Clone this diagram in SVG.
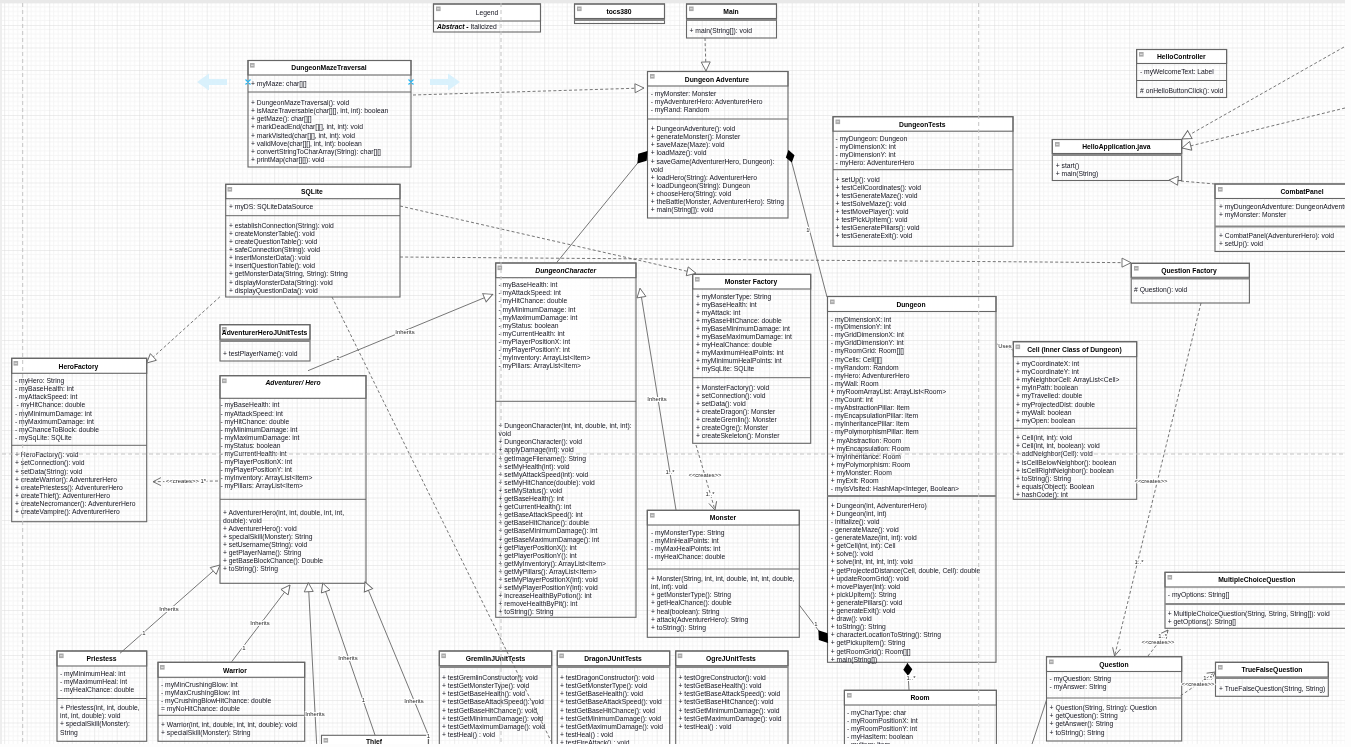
<svg xmlns="http://www.w3.org/2000/svg" width="1351" height="747" viewBox="0 0 1351 747">
<style>
text{font-family:"Liberation Sans",Arial,sans-serif;font-size:6.75px;fill:#14141f}
.n{font-weight:bold;text-anchor:middle;fill:#000;font-size:6.75px}
.b{fill:none;stroke:#666;stroke-width:1.1}
.h{fill:#fff;stroke:#666;stroke-width:1.1}
.d{stroke:#666;stroke-width:1}
.dd{stroke:#888;stroke-width:2.2}
.c{fill:none;stroke:#666;stroke-width:.9}
.dash{stroke-dasharray:3 2.2}
.tri{marker-end:url(#tri)}
.open{marker-end:url(#open)}
.dia{marker-end:url(#dia)}
.dia2{marker-end:url(#dia2)}
.l{text-anchor:middle;font-size:5.9px;fill:#1c1c1c;paint-order:stroke;stroke:#fff;stroke-width:2px}
.pb{stroke:#c4c4c4;stroke-width:1;stroke-dasharray:4 3;fill:none}
</style>
<defs>
<filter id="soft" x="0" y="0" width="100%" height="100%"><feGaussianBlur stdDeviation=".2"/></filter>
<pattern id="grid" patternUnits="userSpaceOnUse" x="4.2" y="2.5" width="22.5" height="22.5">
<path d="M4.5 0V22.5M9 0V22.5M13.5 0V22.5M18 0V22.5M0 4.5H22.5M0 9H22.5M0 13.5H22.5M0 18H22.5" stroke="#f3f3f3" stroke-width=".8" fill="none"/>
<path d="M0 0V22.5M0 0H22.5" stroke="#dcdcdc" stroke-width="1" fill="none"/>
</pattern>
<marker id="tri" markerUnits="userSpaceOnUse" markerWidth="13" markerHeight="12" refX="9.5" refY="5" orient="auto" overflow="visible"><path d="M.5 .5L9.5 5L.5 9.5z" fill="#fff" stroke="#666" stroke-width=".9"/></marker>
<marker id="open" markerUnits="userSpaceOnUse" markerWidth="12" markerHeight="12" refX="8.5" refY="4.5" orient="auto" overflow="visible"><path d="M.5 .5L8.5 4.5L.5 8.5" fill="none" stroke="#666" stroke-width=".9"/></marker>
<marker id="dia" markerUnits="userSpaceOnUse" markerWidth="15" markerHeight="11" refX="13" refY="4.5" orient="auto" overflow="visible"><path d="M0 4.5L6.5 0L13 4.5L6.5 9z" fill="#000"/></marker>
<marker id="dia2" markerUnits="userSpaceOnUse" markerWidth="18" markerHeight="13" refX="16" refY="5.5" orient="auto" overflow="visible"><path d="M0 5.5L8 0L16 5.5L8 11z" fill="#000"/></marker>
<g id="ic"><rect width="4.6" height="4.6" fill="#aaa"/><path d="M1 2.3H3.6" stroke="#fff" stroke-width=".7"/></g>
</defs>
<rect width="1351" height="747" fill="#fff"/>
<g filter="url(#soft)">
<rect x="2" y="3" width="1343" height="741" fill="url(#grid)"/>
<rect width="1351" height="3" fill="#e9e9e9"/>
<rect y="3" width="2" height="741" fill="#eee"/>
<g id="selection-arrows" fill="#d9f1fc">
<path d="M197 82L209 73.5V79H227V85H209V90.5z"/>
<path d="M460 82L448 73.5V79H430V85H448V90.5z"/>
</g>

<g id="DungeonMazeTraversal">
<rect class="h" x="248" y="60.5" width="163" height="14.5"/><rect class="b" x="248" y="60.5" width="163" height="106.5"/><line class="d" x1="248" y1="92" x2="411" y2="92"/>
<use href="#ic" x="250" y="63"/><text class="n" x="329" y="70">DungeonMazeTraversal</text>
<text x="251" y="85.5">+ myMaze: char[][]</text>
<text x="251" y="104.5">+ DungeonMazeTraversal(): void</text>
<text x="251" y="112.5">+ isMazeTraversable(char[][], int, int): boolean</text>
<text x="251" y="120.5">+ getMaze(): char[][]</text>
<text x="251" y="128.5">+ markDeadEnd(char[][], int, int): void</text>
<text x="251" y="137.5">+ markVisited(char[][], int, int): void</text>
<text x="251" y="145.5">+ validMove(char[][], int, int): boolean</text>
<text x="251" y="153.5">+ convertStringToCharArray(String): char[][]</text>
<text x="251" y="161.5">+ printMap(char[][]): void</text>
<path d="M245.5 79.5L250.5 84.5M250.5 79.5L245.5 84.5M408.5 79.5L413.5 84.5M413.5 79.5L408.5 84.5" stroke="#29b6f2" stroke-width="1.2"/>
</g>

<g id="SQLite">
<rect class="h" x="225.7" y="184.3" width="174.3" height="14.4"/><rect class="b" x="225.7" y="184.3" width="174.3" height="112.7"/><line class="d" x1="225.7" y1="215.7" x2="400" y2="215.7"/>
<use href="#ic" x="227.5" y="187"/><text class="n" x="312" y="194">SQLite</text>
<text x="229" y="209.2">+ myDS: SQLiteDataSource</text>
<text x="229" y="228.2">+ establishConnection(String): void</text>
<text x="229" y="236.2">+ createMonsterTable(): void</text>
<text x="229" y="244.2">+ createQuestionTable(): void</text>
<text x="229" y="252.2">+ safeConnection(String): void</text>
<text x="229" y="260.2">+ insertMonsterData(): void</text>
<text x="229" y="268.2">+ insertQuestionTable(): void</text>
<text x="229" y="276.2">+ getMonsterData(String, String): String</text>
<text x="229" y="285.2">+ displayMonsterData(String): void</text>
<text x="229" y="293.2">+ displayQuestionData(): void</text>
</g>

<g id="Legend">
<rect class="h" x="433.5" y="4" width="107" height="17"/><rect class="b" x="433.5" y="4" width="107" height="28"/>
<use href="#ic" x="436" y="6.5"/><text x="487" y="15" text-anchor="middle">Legend</text>
<text x="437" y="29"><tspan font-weight="bold" font-style="italic" fill="#000">Abstract - </tspan>Italicized</text>
</g>

<g id="tocs380">
<rect class="h" x="574.5" y="4" width="90" height="14.5"/><rect class="b" x="574.5" y="4" width="90" height="19.5"/><line class="dd" x1="574.5" y1="20" x2="664.5" y2="20"/>
<use href="#ic" x="577" y="6.5"/><text class="n" x="619" y="14">tocs380</text>
</g>

<g id="Main">
<rect class="h" x="686.5" y="4" width="90" height="14.5"/><rect class="b" x="686.5" y="4" width="90" height="34"/><line class="dd" x1="686.5" y1="20" x2="776.5" y2="20"/>
<use href="#ic" x="689" y="6.5"/><text class="n" x="731" y="14">Main</text>
<text x="689.5" y="33">+ main(String[]): void</text>
</g>

<g id="DungeonAdventure">
<rect class="h" x="647.5" y="71.5" width="140.5" height="14.5"/><rect class="b" x="647.5" y="71.5" width="140.5" height="146.5"/><line class="d" x1="647.5" y1="119" x2="788" y2="119"/>
<use href="#ic" x="650" y="74"/><text class="n" x="717" y="82">Dungeon Adventure</text>
<text x="650.7" y="96">- myMonster: Monster</text>
<text x="650.7" y="104">- myAdventurerHero: AdventurerHero</text>
<text x="650.7" y="112">- myRand: Random</text>
<text x="650.7" y="131">+ DungeonAdventure(): void</text>
<text x="650.7" y="139">+ generateMonster(): Monster</text>
<text x="650.7" y="147">+ saveMaze(Maze): void</text>
<text x="650.7" y="155">+ loadMaze(): void</text>
<text x="650.7" y="164">+ saveGame(AdventurerHero, Dungeon):</text>
<text x="650.7" y="172">void</text>
<text x="650.7" y="180">+ loadHero(String): AdventurerHero</text>
<text x="650.7" y="188">+ loadDungeon(String): Dungeon</text>
<text x="650.7" y="196">+ chooseHero(String): void</text>
<text x="650.7" y="204">+ theBattle(Monster, AdventurerHero): String</text>
<text x="650.7" y="212">+ main(String[]): void</text>
</g>

<g id="DungeonTests">
<rect class="h" x="833" y="116.7" width="180" height="14.5"/><rect class="b" x="833" y="116.7" width="180" height="129.6"/><line class="d" x1="833" y1="169.7" x2="1013" y2="169.7"/>
<use href="#ic" x="835.5" y="119.5"/><text class="n" x="922.3" y="127">DungeonTests</text>
<text x="835.6" y="141">- myDungeon: Dungeon</text>
<text x="835.6" y="149">- myDimensionX: int</text>
<text x="835.6" y="157">- myDimensionY: int</text>
<text x="835.6" y="165">- myHero: AdventurerHero</text>
<text x="835.6" y="182">+ setUp(): void</text>
<text x="835.6" y="190">+ testCellCoordinates(): void</text>
<text x="835.6" y="198">+ testGenerateMaze(): void</text>
<text x="835.6" y="206">+ testSolveMaze(): void</text>
<text x="835.6" y="214">+ testMovePlayer(): void</text>
<text x="835.6" y="222">+ testPickUpItem(): void</text>
<text x="835.6" y="230">+ testGeneratePillars(): void</text>
<text x="835.6" y="238">+ testGenerateExit(): void</text>
</g>

<g id="HelloController">
<rect class="h" x="1136.6" y="49.5" width="90" height="14"/><rect class="b" x="1136.6" y="49.5" width="90" height="48"/><line class="d" x1="1136.6" y1="80.5" x2="1226.6" y2="80.5"/>
<use href="#ic" x="1139" y="52"/><text class="n" x="1181.3" y="59">HelloController</text>
<text x="1140" y="74">- myWelcomeText: Label</text>
<text x="1140" y="93"># onHelloButtonClick(): void</text>
</g>

<g id="HelloApplication">
<rect class="h" x="1052.3" y="139.5" width="129.4" height="14"/><rect class="b" x="1052.3" y="139.5" width="129.4" height="41"/><line class="dd" x1="1052.3" y1="155" x2="1181.7" y2="155"/>
<use href="#ic" x="1055" y="142"/><text class="n" x="1116.3" y="149">HelloApplication.java</text>
<text x="1055.7" y="168">+ start()</text>
<text x="1055.7" y="176">+ main(String)</text>
</g>

<g id="CombatPanel">
<rect class="h" x="1215" y="184" width="174" height="14.5"/><rect class="b" x="1215" y="184" width="174" height="67.5"/><line class="dd" x1="1215" y1="226.5" x2="1389" y2="226.5"/>
<use href="#ic" x="1218" y="187"/><text class="n" x="1302" y="194">CombatPanel</text>
<text x="1219" y="209">+ myDungeonAdventure: DungeonAdventure</text>
<text x="1219" y="217">+ myMonster: Monster</text>
<text x="1219" y="238">+ CombatPanel(AdventurerHero): void</text>
<text x="1219" y="246">+ setUp(): void</text>
</g>

<g id="QuestionFactory">
<rect class="h" x="1131.2" y="263.3" width="118.2" height="14"/><rect class="b" x="1131.2" y="263.3" width="118.2" height="39.7"/><line class="dd" x1="1131.2" y1="278.5" x2="1249.4" y2="278.5"/>
<use href="#ic" x="1134" y="266"/><text class="n" x="1189" y="273">Question Factory</text>
<text x="1134" y="292">#  Question(): void</text>
</g>

<g id="AdventurerHeroJUnitTests">
<rect class="h" x="220" y="324.7" width="90" height="14.5"/><rect class="b" x="220" y="324.7" width="90" height="36.3"/><line class="dd" x1="220" y1="341" x2="310" y2="341"/>
<use href="#ic" x="222" y="327"/><text class="n" x="264.5" y="335">AdventurerHeroJUnitTests</text>
<text x="223" y="356">+ testPlayerName(): void</text>
</g>

<g id="HeroFactory">
<rect class="h" x="11.7" y="358.3" width="135" height="15"/><rect class="b" x="11.7" y="358.3" width="135" height="163.4"/><line class="d" x1="11.7" y1="445.3" x2="146.7" y2="445.3"/>
<use href="#ic" x="13.5" y="361"/><text class="n" x="78.5" y="368.5">HeroFactory</text>
<text x="15" y="383.2">- myHero: String</text>
<text x="15" y="391.2">- myBaseHealth: int</text>
<text x="15" y="399.2">- myAttackSpeed: int</text>
<text x="16.5" y="407.2">- myHitChance: double</text>
<text x="15" y="416.2">- myMinimumDamage: int</text>
<text x="15" y="424.2">- myMaximumDamage: int</text>
<text x="15" y="432.2">- myChanceToBlock: double</text>
<text x="15" y="440.2">- mySqLite: SQLite</text>
<text x="15" y="457.2">+ HeroFactory(): void</text>
<text x="15" y="465.2">+ setConnection(): void</text>
<text x="15" y="474.2">+ setData(String): void</text>
<text x="15" y="482.2">+ createWarrior(): AdventurerHero</text>
<text x="15" y="490.2">+ createPriestess(): AdventurerHero</text>
<text x="15" y="498.2">+ createThief(): AdventurerHero</text>
<text x="15" y="506.2">+ createNecromancer(): AdventurerHero</text>
<text x="15" y="514.2">+ createVampire(): AdventurerHero</text>
</g>

<g id="AdventurerHero">
<rect class="h" x="220" y="375.7" width="146" height="22.6"/><rect class="b" x="220" y="375.7" width="146" height="207.6"/><line class="d" x1="220" y1="499.3" x2="366" y2="499.3"/>
<use href="#ic" x="222" y="378.5"/><text class="n" font-style="italic" x="293" y="385">Adventurer/ Hero</text>
<text x="220.5" y="407.2">- myBaseHealth: int</text>
<text x="220.5" y="416.2">- myAttackSpeed: int</text>
<text x="220.5" y="424.2">- myHitChance: double</text>
<text x="220.5" y="432.2">- myMinimumDamage: int</text>
<text x="220.5" y="440.2">- myMaximumDamage: int</text>
<text x="220.5" y="448.2">- myStatus: boolean</text>
<text x="220.5" y="456.2">- myCurrentHealth: int</text>
<text x="220.5" y="464.2">- myPlayerPositionX: int</text>
<text x="220.5" y="472.2">- myPlayerPositionY: int</text>
<text x="220.5" y="480.2">- myInventory: ArrayList&lt;Item&gt;</text>
<text x="220.5" y="488.2">- myPillars: ArrayList&lt;Item&gt;</text>
<text x="223" y="515.2">+ AdventurerHero(int, int, double, int, int,</text>
<text x="223" y="523.2">double): void</text>
<text x="223" y="531.2">+ AdventurerHero(): void</text>
<text x="223" y="539.2">+ specialSkill(Monster): String</text>
<text x="223" y="547.2">+ setUsername(String): void</text>
<text x="223" y="555.2">+ getPlayerName(): String</text>
<text x="223" y="563.2">+ getBaseBlockChance(): Double</text>
<text x="223" y="571.2">+ toString(): String</text>
</g>

<g id="DungeonCharacter">
<rect class="h" x="495.7" y="263" width="140.3" height="14.7"/><rect class="b" x="495.7" y="263" width="140.3" height="354.3"/><line class="d" x1="495.7" y1="401.3" x2="636" y2="401.3"/>
<rect x="497" y="279" width="93" height="90" fill="#fff" opacity=".75"/>
<use href="#ic" x="497.5" y="265.5"/><text class="n" font-style="italic" x="565.7" y="273">DungeonCharacter</text>
<text x="498.5" y="286.8">- myBaseHealth: int</text>
<text x="498.5" y="295.2">- myAttackSpeed: int</text>
<text x="498.5" y="303.2">- myHitChance: double</text>
<text x="498.5" y="311.8">- myMinimumDamage: int</text>
<text x="498.5" y="319.8">- myMaximumDamage: int</text>
<text x="498.5" y="327.8">- myStatus: boolean</text>
<text x="498.5" y="335.8">- myCurrentHealth: int</text>
<text x="498.5" y="343.8">- myPlayerPositionX: int</text>
<text x="498.5" y="351.8">- myPlayerPositionY: int</text>
<text x="498.5" y="359.8">- myInventory: ArrayList&lt;Item&gt;</text>
<text x="498.5" y="367.8">- myPillars: ArrayList&lt;Item&gt;</text>
<text x="498.5" y="427.8">+ DungeonCharacter(int, int, double, int, int):</text>
<text x="498.5" y="435.8">void</text>
<text x="498.5" y="443.8">+ DungeonCharacter(): void</text>
<text x="498.5" y="451.8">+ applyDamage(int): void</text>
<text x="498.5" y="460.8">+ getImageFilename(): String</text>
<text x="498.5" y="468.8">+ setMyHealth(int): void</text>
<text x="498.5" y="476.8">+ setMyAttackSpeed(int): void</text>
<text x="498.5" y="484.8">+ setMyHitChance(double): void</text>
<text x="498.5" y="493.2">+ setMyStatus(): void</text>
<text x="498.5" y="501.2">+ getBaseHealth(): int</text>
<text x="498.5" y="509.2">+ getCurrentHealth(): int</text>
<text x="498.5" y="517.2">+ getBaseAttackSpeed(): int</text>
<text x="498.5" y="525.2">+ getBaseHitChance(): double</text>
<text x="498.5" y="533.2">+ getBaseMinimumDamage(): int</text>
<text x="498.5" y="542.2">+ getBaseMaximumDamage(): int</text>
<text x="498.5" y="550.2">+ getPlayerPositionX(): int</text>
<text x="498.5" y="558.2">+ getPlayerPositionY(): int</text>
<text x="498.5" y="566.2">+ getMyInventory(): ArrayList&lt;Item&gt;</text>
<text x="498.5" y="574.2">+ getMyPillars(): ArrayList&lt;Item&gt;</text>
<text x="498.5" y="582.2">+ setMyPlayerPositionX(int): void</text>
<text x="498.5" y="590.2">+ setMyPlayerPositionY(int): void</text>
<text x="498.5" y="598.2">+ increaseHealthByPotion(): int</text>
<text x="498.5" y="606.2">+ removeHealthByPit(): int</text>
<text x="498.5" y="614.2">+ toString(): String</text>
</g>

<g id="MonsterFactory">
<rect class="h" x="692.7" y="274.3" width="118" height="14.7"/><rect class="b" x="692.7" y="274.3" width="118" height="169"/><line class="d" x1="692.7" y1="377.7" x2="810.7" y2="377.7"/>
<use href="#ic" x="695" y="277"/><text class="n" x="751" y="284">Monster Factory</text>
<text x="696" y="299.2">+ myMonsterType: String</text>
<text x="696" y="307.2">+ myBaseHealth: int</text>
<text x="696" y="315.2">+ myAttack: int</text>
<text x="696" y="323.2">+ myBaseHitChance: double</text>
<text x="696" y="331.2">+ myBaseMinimumDamage: int</text>
<text x="696" y="339.2">+ myBaseMaximumDamage: int</text>
<text x="696" y="347.2">+ myHealChance: double</text>
<text x="696" y="355.2">+ myMaximumHealPoints: int</text>
<text x="696" y="363.2">+ myMinimumHealPoints: int</text>
<text x="696" y="371.2">+ mySqLite: SQLite</text>
<text x="696" y="390.2">+ MonsterFactory(): void</text>
<text x="696" y="398.2">+ setConnection(): void</text>
<text x="696" y="406.2">+ setData(): void</text>
<text x="696" y="414.2">+ createDragon(): Monster</text>
<text x="696" y="422.2">+ createGremlin(): Monster</text>
<text x="696" y="430.2">+ createOgre(): Monster</text>
<text x="696" y="438.2">+ createSkeleton(): Monster</text>
</g>

<g id="Monster">
<rect class="h" x="647.3" y="510.3" width="152" height="14.7"/><rect class="b" x="647.3" y="510.3" width="152" height="127"/><line class="d" x1="647.3" y1="569" x2="799.3" y2="569"/>
<use href="#ic" x="650" y="513"/><text class="n" x="723" y="520">Monster</text>
<text x="651" y="535.2">- myMonsterType: String</text>
<text x="651" y="543.2">- myMinHealPoints: int</text>
<text x="651" y="551.2">- myMaxHealPoints: int</text>
<text x="651" y="559.2">- myHealChance: double</text>
<text x="651" y="581.2">+ Monster(String, int, int, double, int, int, double,</text>
<text x="651" y="589.2">int, int): void</text>
<text x="651" y="597.2">+ getMonsterType(): String</text>
<text x="651" y="605.2">+ getHealChance(): double</text>
<text x="651" y="614.2">+ heal(boolean): String</text>
<text x="651" y="622.2">+ attack(AdventurerHero): String</text>
<text x="651" y="630.2">+ toString(): String</text>
</g>

<g id="Dungeon">
<rect class="h" x="827.5" y="296.5" width="168.5" height="15"/><rect class="b" x="827.5" y="296.5" width="168.5" height="365.8"/><line class="dd" x1="827.5" y1="496" x2="996" y2="496"/>
<use href="#ic" x="830" y="299.5"/><text class="n" x="911" y="307">Dungeon</text>
<text x="830.8" y="321.5">- myDimensionX: int</text>
<text x="830.8" y="329.2">- myDimensionY: int</text>
<text x="830.8" y="337.2">- myGridDimensionX: int</text>
<text x="830.8" y="345.2">- myGridDimensionY: int</text>
<text x="830.8" y="353.2">- myRoomGrid: Room[][]</text>
<text x="830.8" y="361.8">- myCells: Cell[][]</text>
<text x="830.8" y="370.2">- myRandom: Random</text>
<text x="830.8" y="378.2">- myHero: AdventurerHero</text>
<text x="830.8" y="386.2">- myWall: Room</text>
<text x="830.8" y="394.2">+ myRoomArrayList: ArrayList&lt;Room&gt;</text>
<text x="830.8" y="402.2">- myCount: int</text>
<text x="830.8" y="410.2">- myAbstractionPillar: Item</text>
<text x="830.8" y="418.2">- myEncapsulationPillar: Item</text>
<text x="830.8" y="426.2">- myInheritancePillar: Item</text>
<text x="830.8" y="434.2">- myPolymorphismPillar: Item</text>
<text x="830.8" y="443.2">+ myAbstraction: Room</text>
<text x="830.8" y="451.2">+ myEncapsulation: Room</text>
<text x="830.8" y="459.2">+ myInheritance: Room</text>
<text x="830.8" y="467.2">+ myPolymorphism: Room</text>
<text x="830.8" y="475.2">+ myMonster: Room</text>
<text x="830.8" y="483.2">+ myExit: Room</text>
<text x="830.8" y="491.2">- myIsVisited: HashMap&lt;Integer, Boolean&gt;</text>
<text x="830.8" y="508.2">+ Dungeon(int, AdventurerHero)</text>
<text x="830.8" y="516.2">+ Dungeon(int, int)</text>
<text x="830.8" y="524.2">- initialize(): void</text>
<text x="830.8" y="532.2">- generateMaze(): void</text>
<text x="830.8" y="540.2">- generateMaze(int, int): void</text>
<text x="830.8" y="548.2">+ getCell(int, int): Cell</text>
<text x="830.8" y="556.2">+ solve(): void</text>
<text x="830.8" y="564.2">+ solve(int, int, int, int): void</text>
<text x="830.8" y="573">+ getProjectedDistance(Cell, double, Cell): double</text>
<text x="830.8" y="581.2">+ updateRoomGrid(): void</text>
<text x="830.8" y="589.2">+ movePlayer(int): void</text>
<text x="830.8" y="597.2">+ pickUpItem(): String</text>
<text x="830.8" y="605.2">+ generatePillars(): void</text>
<text x="830.8" y="613.2">+ generateExit(): void</text>
<text x="830.8" y="621.2">+ draw(): void</text>
<text x="830.8" y="629.2">+ toString(): String</text>
<text x="830.8" y="637.2">+ characterLocationToString(): String</text>
<text x="830.8" y="645.2">+ getPickupItem(): String</text>
<text x="830.8" y="654.2">+ getRoomGrid(): Room[][]</text>
<text x="830.8" y="662.2">+ main(String[])</text>
</g>

<g id="Cell">
<rect class="h" x="1013.3" y="341.7" width="123.4" height="15"/><rect class="b" x="1013.3" y="341.7" width="123.4" height="157.6"/><line class="d" x1="1013.3" y1="428.3" x2="1136.7" y2="428.3"/>
<use href="#ic" x="1015.5" y="344.5"/><text class="n" x="1074.5" y="352">Cell (Inner Class of Dungeon)</text>
<text x="1016" y="366.2">+ myCoordinateX: int</text>
<text x="1016" y="374.2">+ myCoordinateY: int</text>
<text x="1016" y="382.2">+ myNeighborCell: ArrayList&lt;Cell&gt;</text>
<text x="1016" y="390.2">+ myInPath: boolean</text>
<text x="1016" y="398.2">+ myTravelled: double</text>
<text x="1016" y="407.2">+ myProjectedDist: double</text>
<text x="1016" y="415.2">+ myWall: boolean</text>
<text x="1016" y="423.2">+ myOpen: boolean</text>
<text x="1016" y="440.2">+ Cell(int, int): void</text>
<text x="1016" y="448.2">+ Cell(int, int, boolean): void</text>
<text x="1016" y="456.2">+ addNeighbor(Cell): void</text>
<text x="1016" y="465.2">+ isCellBelowNeighbor(): boolean</text>
<text x="1016" y="473.2">+ isCellRightNeighbor(): boolean</text>
<text x="1016" y="481.2">+ toString(): String</text>
<text x="1016" y="489.2">+ equals(Object): Boolean</text>
<text x="1016" y="497.2">+ hashCode(): int</text>
</g>

<g id="Room">
<rect class="h" x="844.4" y="690.3" width="152" height="14.7"/><rect class="b" x="844.4" y="690.3" width="152" height="100"/>
<use href="#ic" x="847" y="693"/><text class="n" x="920" y="700">Room</text>
<text x="847" y="715">- myCharType: char</text>
<text x="847" y="723">- myRoomPositionX: int</text>
<text x="847" y="731">- myRoomPositionY: int</text>
<text x="847" y="739">- myHasItem: boolean</text>
<text x="847" y="747">- myItem: Item</text>
</g>

<g id="MultipleChoiceQuestion">
<rect class="h" x="1165" y="572.3" width="184" height="14.7"/><rect class="b" x="1165" y="572.3" width="184" height="56"/><line class="dd" x1="1165" y1="604" x2="1349" y2="604"/>
<use href="#ic" x="1167.5" y="575"/><text class="n" x="1256.8" y="582">MultipleChoiceQuestion</text>
<text x="1167.8" y="597.2">- myOptions: String[]</text>
<text x="1167.8" y="616.2">+ MultipleChoiceQuestion(String, String, String[]): void</text>
<text x="1167.8" y="624.2">+ getOptions(): String[]</text>
</g>

<g id="Question">
<rect class="h" x="1046.5" y="656.7" width="135.2" height="14.8"/><rect class="b" x="1046.5" y="656.7" width="135.2" height="84.3"/><line class="d" x1="1046.5" y1="698" x2="1181.7" y2="698"/>
<use href="#ic" x="1049" y="659.5"/><text class="n" x="1114" y="667">Question</text>
<text x="1049.6" y="681.2">- myQuestion: String</text>
<text x="1049.6" y="689.2">- myAnswer: String</text>
<text x="1049.6" y="710.2">+ Question(String, String): Question</text>
<text x="1049.6" y="718.2">+ getQuestion(): String</text>
<text x="1049.6" y="726.2">+ getAnswer(): String</text>
<text x="1049.6" y="735.2">+ toString(): String</text>
</g>

<g id="TrueFalseQuestion">
<rect class="h" x="1215.5" y="662.3" width="112.8" height="14.7"/><rect class="b" x="1215.5" y="662.3" width="112.8" height="34"/><line class="dd" x1="1215.5" y1="678" x2="1328.3" y2="678"/>
<use href="#ic" x="1218" y="665"/><text class="n" x="1272" y="672">TrueFalseQuestion</text>
<text x="1219" y="691.2">+ TrueFalseQuestion(String, String)</text>
</g>

<g id="Priestess">
<rect class="h" x="57" y="651" width="89.7" height="15"/><rect class="b" x="57" y="651" width="89.7" height="90.3"/><line class="d" x1="57" y1="698.5" x2="146.7" y2="698.5"/>
<use href="#ic" x="59" y="653.5"/><text class="n" x="101.5" y="661">Priestess</text>
<text x="60" y="676">- myMinimumHeal: int</text>
<text x="60" y="684.2">- myMaximumHeal: int</text>
<text x="60" y="692.2">- myHealChance: double</text>
<text x="60" y="710.2">+ Priestess(int, int, double,</text>
<text x="60" y="718.2">int, int, double): void</text>
<text x="60" y="726.2">+ specialSkill(Monster):</text>
<text x="60" y="735.2">String</text>
</g>

<g id="Warrior">
<rect class="h" x="158" y="662.3" width="146.7" height="15"/><rect class="b" x="158" y="662.3" width="146.7" height="79"/><line class="d" x1="158" y1="715.3" x2="304.7" y2="715.3"/>
<use href="#ic" x="160" y="665"/><text class="n" x="235" y="672.5">Warrior</text>
<text x="161" y="687.2">- myMinCrushingBlow: int</text>
<text x="161" y="695.2">- myMaxCrushingBlow: int</text>
<text x="161" y="703.2">- myCrushingBlowHitChance: double</text>
<text x="161" y="711.2">= myNoHitChance: double</text>
<text x="161" y="727.2">+ Warrior(int, int, double, int, int, double): void</text>
<text x="161" y="735.2">+ specialSkill(Monster): String</text>
</g>

<g id="Thief">
<rect class="h" x="321.5" y="735.3" width="107" height="60"/>
<use href="#ic" x="323.5" y="738"/><text class="n" x="374" y="744">Thief</text>
</g>

<g id="GremlinJUnitTests">
<rect class="h" x="439.3" y="651" width="112.4" height="14.7"/><rect class="b" x="439.3" y="651" width="112.4" height="120"/><line class="dd" x1="439.3" y1="667" x2="551.7" y2="667"/>
<use href="#ic" x="441.3" y="653.5"/><text class="n" x="495.5" y="661">GremlinJUnitTests</text>
<text x="442" y="680.2">+ testGremlinConstructor(): void</text>
<text x="442" y="688.2">+ testGetMonsterType(): void</text>
<text x="442" y="696.2">+ testGetBaseHealth(): void</text>
<text x="442" y="704.2">+ testGetBaseAttackSpeed(): void</text>
<text x="442" y="713.2">+ testGetBaseHitChance(): void</text>
<text x="442" y="721.2">+ testGetMinimumDamage(): void</text>
<text x="442" y="729.2">+ testGetMaximumDamage(): void</text>
<text x="442" y="737.2">+ testHeal() : void</text>
</g>

<g id="DragonJUnitTests">
<rect class="h" x="557.3" y="651" width="112.4" height="14.7"/><rect class="b" x="557.3" y="651" width="112.4" height="120"/><line class="dd" x1="557.3" y1="667" x2="669.7" y2="667"/>
<use href="#ic" x="559.3" y="653.5"/><text class="n" x="613" y="661">DragonJUnitTests</text>
<text x="560" y="680.2">+ testDragonConstructor(): void</text>
<text x="560" y="688.2">+ testGetMonsterType(): void</text>
<text x="560" y="696.2">+ testGetBaseHealth(): void</text>
<text x="560" y="704.2">+ testGetBaseAttackSpeed(): void</text>
<text x="560" y="713.2">+ testGetBaseHitChance(): void</text>
<text x="560" y="721.2">+ testGetMinimumDamage(): void</text>
<text x="560" y="729.2">+ testGetMaximumDamage(): void</text>
<text x="560" y="737.2">+ testHeal() : void</text>
<text x="560" y="745.2">+ testFireAttack() : void</text>
</g>

<g id="OgreJUnitTests">
<rect class="h" x="675.7" y="651" width="112.3" height="14.7"/><rect class="b" x="675.7" y="651" width="112.3" height="120"/><line class="dd" x1="675.7" y1="667" x2="788" y2="667"/>
<use href="#ic" x="677.7" y="653.5"/><text class="n" x="731" y="661">OgreJUnitTests</text>
<text x="678.5" y="680.2">+ testOgreConstructor(): void</text>
<text x="678.5" y="688.2">+ testGetBaseHealth(): void</text>
<text x="678.5" y="696.2">+ testGetBaseAttackSpeed(): void</text>
<text x="678.5" y="704.2">+ testGetBaseHitChance(): void</text>
<text x="678.5" y="713.2">+ testGetMinimumDamage(): void</text>
<text x="678.5" y="721.2">+ testGetMaximumDamage(): void</text>
<text x="678.5" y="729.2">+ testHeal() : void</text>
</g>

<g id="connectors">
<path class="c dash tri" d="M705 38L706 71"/>
<path class="c dash tri" d="M413 95L644 88"/>
<path class="c dash tri" d="M400 206L696 273.3"/>
<path class="c dash tri" d="M400 257L1131 262.7"/>
<path class="c dash tri" d="M220 296.7L146.7 363"/>
<path class="c dash" d="M332 297L553 745"/>
<path class="c tri" d="M308 370.7L492.7 294.3"/>
<path class="c dia2" d="M556.7 262.5L647.5 151"/>
<path class="c dia" d="M827 297L788.5 150"/>
<path class="c dia2" d="M799.3 605L828 643"/>
<path class="c dia" d="M909 690L907.4 663"/>
<path class="c tri" d="M120 653.3L220 565"/>
<path class="c tri" d="M231.7 661.7L290 585"/>
<path class="c tri" d="M316.7 745L308.3 582.7"/>
<path class="c tri" d="M375 735L322.7 583"/>
<path class="c tri" d="M428.3 735L365 582"/>
<path class="c" d="M428.3 735V745"/>
<path class="c tri" d="M676 510L640 288.3"/>
<path class="c dash open" d="M696 445L715 510"/>
<path class="c dash open" d="M218 481L153 481.7"/>
<path class="c dash open" d="M1201 303L1114.6 656"/>
<path class="c dash open" d="M1148 656L1168 630"/>
<path class="c dash open" d="M1180.6 695.7L1215.5 672"/>
<path class="c dash" d="M997 344L1012.7 350"/>
<path class="c dash tri" d="M1344 47L1182 139"/>
<path class="c dash tri" d="M1345 108L1182 148"/>
<path class="c dash tri" d="M1215 184L1169 180"/>
<path class="c" d="M1046.5 700L1031.7 745"/>
<text class="l" x="169" y="611">Inherits</text>
<text class="l" x="144" y="635">1</text>
<text class="l" x="260" y="625">Inherits</text>
<text class="l" x="244" y="650">1</text>
<text class="l" x="315" y="716">Inherits</text>
<text class="l" x="348" y="660">Inherits</text>
<text class="l" x="363.5" y="702">1</text>
<text class="l" x="414" y="703">Inherits</text>
<text class="l" x="428.5" y="738">1</text>
<text class="l" x="405" y="334">Inherits</text>
<text class="l" x="338" y="360">1</text>
<text class="l" x="657" y="401">Inherits</text>
<text class="l" x="670" y="474">1..*</text>
<text class="l" x="705" y="477">&lt;&lt;creates&gt;&gt;</text>
<text class="l" x="710" y="496">1..*</text>
<text class="l" x="186" y="483">&lt;&lt;creates&gt;&gt; 1*</text>
<text class="l" x="808" y="232">1</text>
<text class="l" x="816" y="626">1</text>
<text class="l" x="911" y="680">1..*</text>
<text class="l" x="1005" y="348">Uses</text>
<text class="l" x="1139" y="564">1..*</text>
<text class="l" x="1151" y="483">&lt;&lt;creates&gt;&gt;</text>
<text class="l" x="1162.7" y="638">1..*</text>
<text class="l" x="1158" y="644">&lt;&lt;creates&gt;&gt;</text>
<text class="l" x="1198" y="686">&lt;&lt;creates&gt;&gt;</text>
<text class="l" x="1207.7" y="680">1..*</text>
</g>

<g id="page-breaks">
<path class="pb" d="M22.7 3V744M501 3V744M978.7 3V744M2 454H1345"/>
</g>
</g>
<rect x="1345" y="0" width="6" height="747" fill="#fdfdfd"/>
<rect x="0" y="744" width="1351" height="3" fill="#fdfdfd"/>
</svg>
